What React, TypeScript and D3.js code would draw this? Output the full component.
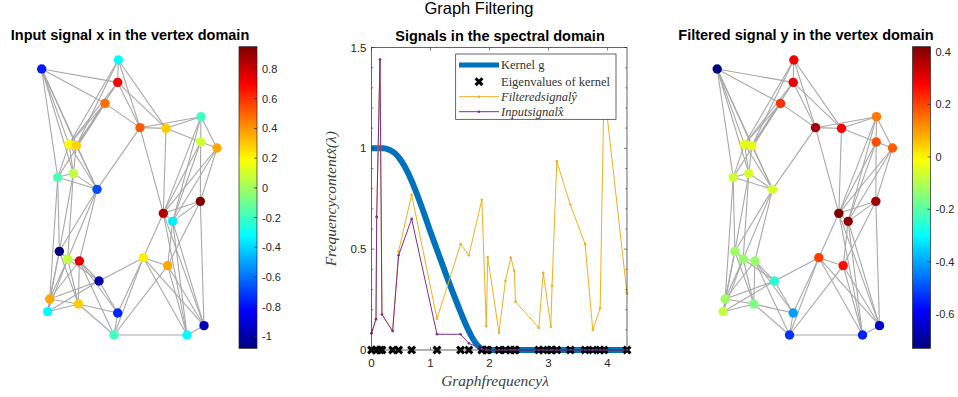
import * as d3 from 'd3'

const W = 958
const H = 397

// graph layout (arbitrary units)
const nodeX = [125, 355, 353, 315, 420, 498, 603, 602, 651, 207, 229, 173, 220, 291, 601, 490, 518, 178, 203, 238, 430, 503, 297, 149, 235, 143, 353, 612, 342, 561]
const nodeY = [147, 120, 187, 250, 323, 325, 290, 366, 384, 373, 377, 472, 460, 508, 544, 580, 604, 694, 717, 723, 713, 737, 783, 837, 852, 875, 879, 917, 945, 945]

// edges, 1-based node numbers
const edges: [number, number][] = [
  [1, 3], [1, 4], [1, 10], [1, 11], [1, 12], [1, 13], [1, 14],
  [2, 3], [2, 10], [2, 11], [2, 5], [2, 6],
  [3, 5], [3, 6], [3, 10], [3, 11],
  [4, 5], [4, 10], [4, 11], [4, 12],
  [5, 6], [5, 7], [5, 14], [5, 16],
  [6, 7], [6, 8], [6, 16],
  [7, 8], [7, 9], [7, 16], [7, 17],
  [8, 9], [8, 15], [8, 16], [8, 17],
  [9, 15], [9, 16], [9, 17],
  [10, 11], [10, 12], [10, 13], [10, 14],
  [11, 13], [11, 14],
  [12, 13], [12, 14], [12, 18], [12, 24],
  [13, 14], [13, 18], [13, 19],
  [14, 18], [14, 19], [14, 20],
  [15, 16], [15, 17], [15, 22], [15, 28],
  [16, 17], [16, 21], [16, 28], [16, 30],
  [17, 22], [17, 28], [17, 30],
  [18, 19], [18, 24], [18, 26], [18, 25],
  [19, 20], [19, 24], [19, 25], [19, 26], [19, 23],
  [20, 23], [20, 25], [20, 27], [20, 29], [20, 24],
  [21, 22], [21, 23], [21, 27], [21, 29], [21, 28], [21, 30],
  [22, 28], [22, 30], [22, 29],
  [23, 24], [23, 26], [23, 27],
  [24, 25], [24, 26],
  [25, 26], [25, 27], [25, 29],
  [27, 29], [29, 30], [28, 30],
]

// signal on the vertices
const signalX = [-0.78, -0.32, 0.70, 0.48, 0.52, 0.29, -0.19, 0.09, 0.36, 0.18, 0.28, -0.17, 0.06, -0.67, 0.95, 0.85, -0.35, -1.08, 0.07, 0.75, 0.22, 0.36, -1.0, 0.36, 0.29, -0.32, -0.75, -0.96, -0.19, -0.32]
const signalY = [-0.73, 0.29, 0.30, 0.22, 0.37, 0.28, 0.14, 0.19, 0.17, -0.04, -0.04, -0.07, -0.06, -0.06, 0.38, 0.42, 0.40, -0.12, -0.13, -0.13, 0.21, 0.26, -0.25, -0.12, -0.16, -0.08, -0.41, -0.65, -0.53, -0.55]
const ticksX = [0.8, 0.6, 0.4, 0.2, 0, -0.2, -0.4, -0.6, -0.8, -1]
const ticksY = [0.4, 0.2, 0, -0.2, -0.4, -0.6]

// spectral domain
const eigenvalues = [0, 0.076, 0.088, 0.144, 0.177, 0.358, 0.46, 0.68, 1.11, 1.51, 1.65, 1.87, 1.945, 1.97, 2.16, 2.27, 2.36, 2.42, 2.44, 2.835, 2.91, 3.04, 3.06, 3.14, 3.37, 3.62, 3.75, 3.875, 3.94, 4.33]
const filteredHat = [0.083, 0.153, 0.66, 1.44, 0.176, 0.094, 0.49, 0.77, 0.155, 0.525, 0.47, 0.745, 0.118, 0.46, 0.086, 0.343, 0.458, 0.393, 0.24, 0.11, 0.383, 0.115, 0.318, 0.936, 0.72, 0.525, 0.099, 0.207, 1.30, 0.28]
const inputHat = [0.083, 0.153, 0.66, 1.44, 0.176, 0.094, 0.47, 0.65, 0.078, 0.078, 0.033, 0.005, 0.001, 0, 0, 0, 0, 0, 0, 0, 0, 0, 0, 0, 0, 0, 0, 0, 0, 0]
const kernelLambda = [0, 0.2, 0.3, 0.4, 0.5, 0.6, 0.7, 0.8, 0.9, 1.0, 1.1, 1.2, 1.3, 1.4, 1.5, 1.6, 1.7, 1.8, 1.9, 2.0, 4.33]
const kernelValue = [1, 1, 0.993, 0.975, 0.94, 0.89, 0.825, 0.75, 0.67, 0.585, 0.505, 0.425, 0.345, 0.27, 0.195, 0.125, 0.065, 0.022, 0.003, 0, 0]
const xTicks = [0, 1, 2, 3, 4]
const yTicks = [0, 0.5, 1, 1.5]

const SANS = 'Liberation Sans, Arial, sans-serif'
const SERIF = 'Liberation Serif, Times New Roman, serif'
const AX = '#262626'
const CROSS = 'M-3.4,-3.4L3.4,3.4M-3.4,3.4L3.4,-3.4'

const clamp = (v: number) => Math.max(0, Math.min(1, v))
const jet = (t: number) =>
  d3.rgb(255 * clamp(1.5 - Math.abs(4 * t - 3)), 255 * clamp(1.5 - Math.abs(4 * t - 2)), 255 * clamp(1.5 - Math.abs(4 * t - 1))).formatHex()

function VertexPanel({ id, values, x0, cbX, ticks, title, titleX }: {
  id: string, values: number[], x0: number, cbX: number, ticks: number[], title: string, titleX: number
}) {
  const sx = d3.scaleLinear().domain([125, 651]).range([x0, x0 + 175.3])
  const sy = d3.scaleLinear().domain([120, 945]).range([60, 335])
  const ext = d3.extent(values) as [number, number]
  const t = d3.scaleLinear().domain(ext).range([0, 1])
  const cb = d3.scaleLinear().domain(ext).range([348.3, 46.7])
  const stops = d3.range(0, 1.0001, 1 / 32)
  return (
    <g>
      <text x={titleX} y={40} textAnchor="middle" fontFamily={SANS} fontWeight="bold" fontSize={14.5} fill="#000">{title}</text>
      {edges.map(([a, b], i) => (
        <line key={i} x1={sx(nodeX[a - 1])} y1={sy(nodeY[a - 1])} x2={sx(nodeX[b - 1])} y2={sy(nodeY[b - 1])}
          stroke="#a8a8a8" strokeWidth={1.1} />
      ))}
      {values.map((v, i) => (
        <circle key={i} cx={sx(nodeX[i])} cy={sy(nodeY[i])} r={4.7} fill={jet(t(v))} />
      ))}
      <defs>
        <linearGradient id={id} x1="0" y1="1" x2="0" y2="0">
          {stops.map((s, i) => <stop key={i} offset={s} stopColor={jet(s)} />)}
        </linearGradient>
      </defs>
      <rect x={cbX} y={46.7} width={18} height={301.6} fill={`url(#${id})`} stroke={AX} strokeWidth={0.7} />
      {ticks.map(v => (
        <g key={v}>
          <line x1={cbX + 18} x2={cbX + 15} y1={cb(v)} y2={cb(v)} stroke={AX} strokeWidth={0.7} />
          <text x={cbX + 23} y={cb(v) + 4} fontFamily={SANS} fontSize={11} fill={AX}>{v}</text>
        </g>
      ))}
    </g>
  )
}

function Spectral() {
  const x = d3.scaleLinear().domain([0, 4.33]).range([371.5, 627])
  const y = d3.scaleLinear().domain([0, 1.5]).range([350, 47.5])
  const kernel = d3.line<number>().x((_, i) => x(kernelLambda[i])).y(d => y(d)).curve(d3.curveMonotoneX)
  const sig = d3.line<number>().x((_, i) => x(eigenvalues[i])).y(d => y(d))
  const [l, r] = x.range()
  const [b, t] = y.range()
  const minorY = d3.range(0, 1.5001, 0.1)
  const legendRows = [65, 81.7, 96.7, 111.7]
  return (
    <g>
      <text x={500} y={41} textAnchor="middle" fontFamily={SANS} fontWeight="bold" fontSize={14.5} fill="#000">Signals in the spectral domain</text>
      <rect x={l} y={t} width={r - l} height={b - t} fill="#fff" />
      <path d={kernel(kernelValue) || ''} fill="none" stroke="#0072BD" strokeWidth={6} />
      {eigenvalues.map((e, i) => (
        <path key={i} transform={`translate(${x(e)},${y(0)})`} d={CROSS} stroke="#000" strokeWidth={3} />
      ))}
      <path d={sig(filteredHat) || ''} fill="none" stroke="#EDB120" strokeWidth={1} />
      {filteredHat.map((v, i) => <circle key={i} cx={x(eigenvalues[i])} cy={y(v)} r={1.3} fill="#EDB120" />)}
      <path d={sig(inputHat) || ''} fill="none" stroke="#7E2F8E" strokeWidth={1} />
      {inputHat.map((v, i) => <circle key={i} cx={x(eigenvalues[i])} cy={y(v)} r={1.3} fill="#7E2F8E" />)}

      {/* box and ticks */}
      <rect x={l} y={t} width={r - l} height={b - t} fill="none" stroke={AX} strokeWidth={0.7} />
      {minorY.map((v, i) => (
        <g key={i}>
          <line x1={l} x2={l + (i % 5 === 0 ? 3 : 1.6)} y1={y(v)} y2={y(v)} stroke={AX} strokeWidth={0.6} />
          <line x1={r} x2={r - (i % 5 === 0 ? 3 : 1.6)} y1={y(v)} y2={y(v)} stroke={AX} strokeWidth={0.6} />
        </g>
      ))}
      {xTicks.map(v => (
        <g key={v}>
          <line x1={x(v)} x2={x(v)} y1={t} y2={t + 3} stroke={AX} strokeWidth={0.6} />
          <line x1={x(v)} x2={x(v)} y1={b} y2={b - 3} stroke={AX} strokeWidth={0.6} />
          <text x={x(v)} y={367} textAnchor="middle" fontFamily={SANS} fontSize={11.5} fill={AX}>{v}</text>
        </g>
      ))}
      {yTicks.map(v => (
        <text key={v} x={l - 5} y={y(v) + 4} textAnchor="end" fontFamily={SANS} fontSize={11.5} fill={AX}>{v}</text>
      ))}
      <text x={495} y={386} textAnchor="middle" fontFamily={SERIF} fontStyle="italic" fontSize={15.5} fill="#404040">Graphfrequencyλ</text>
      <text transform={`translate(336,${y(0.75)}) rotate(-90)`} textAnchor="middle" fontFamily={SERIF} fontStyle="italic" fontSize={15.5} fill="#404040">Frequencycontentx̂(λ)</text>

      {/* legend */}
      <rect x={455.7} y={54} width={160.3} height={65.3} fill="#fff" stroke={AX} strokeWidth={0.7} />
      <line x1={459} x2={499} y1={legendRows[0]} y2={legendRows[0]} stroke="#0072BD" strokeWidth={5} />
      <path transform={`translate(479,${legendRows[1]})`} d={CROSS} stroke="#000" strokeWidth={3} />
      <line x1={459} x2={499} y1={legendRows[2]} y2={legendRows[2]} stroke="#EDB120" strokeWidth={1} />
      <circle cx={479} cy={legendRows[2]} r={1.3} fill="#EDB120" />
      <line x1={459} x2={499} y1={legendRows[3]} y2={legendRows[3]} stroke="#7E2F8E" strokeWidth={1} />
      <circle cx={479} cy={legendRows[3]} r={1.3} fill="#7E2F8E" />
      <text x={501} y={legendRows[0] + 4} fontFamily={SERIF} fontSize={12.5} fill="#333">Kernel g</text>
      <text x={501} y={legendRows[1] + 4} fontFamily={SERIF} fontSize={12.5} fill="#333">Eigenvalues of kernel</text>
      <text x={501} y={legendRows[2] + 4} fontFamily={SERIF} fontStyle="italic" fontSize={12.5} fill="#333">Filteredsignalŷ</text>
      <text x={501} y={legendRows[3] + 4} fontFamily={SERIF} fontStyle="italic" fontSize={12.5} fill="#333">Inputsignalx̂</text>
    </g>
  )
}

export default function App() {
  return (
    <div style={{ position: 'absolute', left: 0, top: 0 }}>
      <svg width={W} height={H} style={{ display: 'block', background: '#fff' }}>
        <text x={479} y={14} textAnchor="middle" fontFamily={SANS} fontSize={16.5} fill="#000">Graph Filtering</text>
        <VertexPanel id="cbx" values={signalX} x0={41.7} cbX={239} ticks={ticksX}
          title="Input signal x in the vertex domain" titleX={130} />
        <Spectral />
        <VertexPanel id="cby" values={signalY} x0={717.2} cbX={912.5} ticks={ticksY}
          title="Filtered signal y in the vertex domain" titleX={806} />
      </svg>
    </div>
  )
}
